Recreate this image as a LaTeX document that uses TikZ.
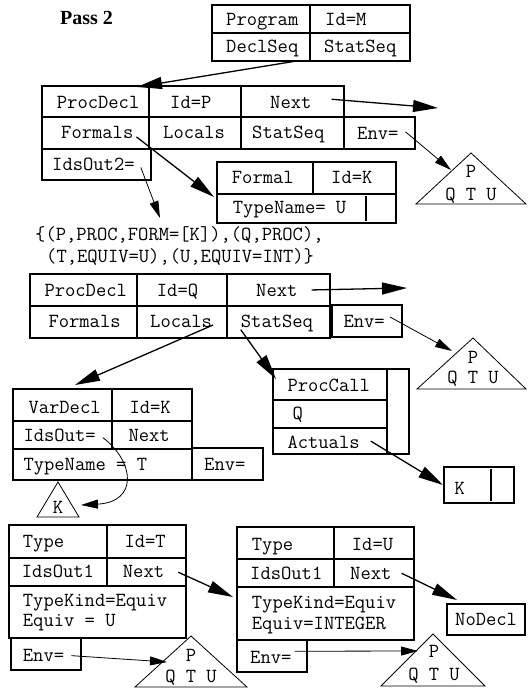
\documentclass[tikz,border=0pt]{standalone}
\usepackage{fontspec}
\usepackage{tikz}
\usetikzlibrary{arrows.meta}
\newfontfamily\headfont{Liberation Serif}

\tikzset{
  rec/.style={line width=1.3pt},
  fld/.style={anchor=base west, inner sep=0pt, font=\fontsize{20}{22}\selectfont\ttfamily},
  ctr/.style={fld, anchor=base},
  ptr/.style={line width=1.3pt, -{Triangle[length=25pt, width=12pt]}},
  envptr/.style={line width=0.8pt, -{Triangle[length=17pt, width=9pt]}},
  tree/.style={line width=0.8pt}
}

\begin{document}
\begin{tikzpicture}[x=1pt, y=-1pt]
    \useasboundingbox (0,0) rectangle (527,692);

    \node[anchor=base west, inner sep=0pt, font=\headfont\bfseries\fontsize{20}{22}\selectfont] (pass) at (60,25) {Pass 2};

    % program node
    \draw[rec] (212,5) rectangle (410,61) (212,33) -- (410,33) (310,5) -- (310,61);
    \node[fld] (prog) at (226,26) {Program};
    \node[fld] (idm) at (325,26) {Id=M};
    \node[fld] (dsq) at (226,52.7) {DeclSeq};
    \node[fld] (ssq) at (324,52.7) {StatSeq};

    % procedure P
    \draw[rec] (42,86) rectangle (344,149) (42,117) -- (344,117) (149,86) -- (149,149) (241,86) -- (241,149);
    \draw[rec] (344,117) rectangle (415,149);
    \draw[rec] (42,149) rectangle (151,180);
    \node[fld] (pd1) at (56.7,108.3) {ProcDecl};
    \node[fld] (idp) at (170,108.3) {Id=P};
    \node[fld] (nx1) at (270,108.3) {Next};
    \node[fld] (fm1) at (61,139) {Formals};
    \node[fld] (lc1) at (163,139) {Locals};
    \node[fld] (ss1) at (252,139) {StatSeq};
    \node[fld] (env1) at (357,140) {Env=};
    \node[fld] (ids2) at (52,171) {IdsOut2=};

    \draw[rec] (217,162) rectangle (396,223) (217,194) -- (396,194) (313,162) -- (313,194);
    \draw[rec] (366,196) -- (366,221);
    \node[fld] (fml) at (231.7,184) {Formal};
    \node[fld] (idk1) at (331,184) {Id=K};
    \node[fld] (tnu) at (232.7,214) {TypeName= U};

    \draw[tree] (471,153) -- (526,204) -- (416,204) -- cycle;
    \node[ctr] (p1) at (471,178) {P};
    \node[ctr] (qtu1) at (471,200.7) {Q T U};

    \node[fld] (set1) at (35,240.7) {\{(P,PROC,FORM=[K]),(Q,PROC),};
    \node[fld] (set2) at (46,262.7) {(T,EQUIV=U),(U,EQUIV=INT)\}};

    % procedure Q
    \draw[rec] (30,274) rectangle (330,338) (30,306) -- (330,306) (137,274) -- (137,338) (227,274) -- (227,338);
    \draw[rec] (332,305) rectangle (402,337);
    \node[fld] (pd2) at (44.3,296) {ProcDecl};
    \node[fld] (idq) at (156.7,296) {Id=Q};
    \node[fld] (nx2) at (256,296) {Next};
    \node[fld] (fm2) at (48.3,327) {Formals};
    \node[fld] (lc2) at (150,327) {Locals};
    \node[fld] (ss2) at (240.7,327) {StatSeq};
    \node[fld] (env2) at (343.3,327) {Env=};

    \draw[tree] (473,338) -- (526,389) -- (417,389) -- cycle;
    \node[ctr] (p2) at (473,363) {P};
    \node[ctr] (qtu2) at (473,383) {Q T U};

    % variable K
    \draw[rec] (13,389) rectangle (192,480) (13,421) -- (192,421) (13,449) -- (192,449) (112,389) -- (112,449);
    \draw[rec] (192,448) rectangle (263,480);
    \node[fld] (vd) at (28.3,413.3) {VarDecl};
    \node[fld] (idk2) at (129.3,413.3) {Id=K};
    \node[fld] (ido) at (23.3,441.7) {IdsOut=};
    \node[fld] (nx3) at (128.3,441.7) {Next};
    \node[fld] (tnt) at (23.3,470) {TypeName = T};
    \node[fld] (env3) at (204,470.7) {Env=};

    \draw[tree] (58,482) -- (79,517) -- (37,517) -- cycle;
    \node[ctr] (k1) at (58,513) {K};

    % call of Q
    \draw[rec] (273,369) rectangle (409,454) (273,400) -- (387,400) (273,428) -- (387,428) (387,369) -- (387,454);
    \node[fld] (pc) at (287.3,391) {ProcCall};
    \node[fld] (q) at (292.3,419.3) {Q};
    \node[fld] (act) at (287.3,448.3) {Actuals};

    \draw[rec] (444,467) rectangle (514,503) (491,469) -- (491,501);
    \node[fld] (k2) at (454.3,494.3) {K};

    % type T
    \draw[rec] (9,525) rectangle (186,638) (9,558) -- (186,558) (9,586) -- (186,586) (107,525) -- (107,586);
    \draw[rec] (11,638) rectangle (81,670);
    \node[fld] (ty1) at (22.7,547.3) {Type};
    \node[fld] (idt) at (124.3,547.3) {Id=T};
    \node[fld] (io1) at (21.7,577.3) {IdsOut1};
    \node[fld] (nx4) at (122.7,577.3) {Next};
    \node[fld] (tk1) at (22.7,606.7) {TypeKind=Equiv};
    \node[fld] (eq1) at (22.7,626.7) {Equiv = U};
    \node[fld] (env4) at (22.7,661.7) {Env=};

    \draw[tree] (191,636) -- (247,687) -- (135,687) -- cycle;
    \node[ctr] (p3) at (191,661) {P};
    \node[ctr] (qtu3) at (191,682) {Q T U};

    % type U
    \draw[rec] (237,527) rectangle (414,640) (237,559) -- (414,559) (237,587) -- (414,587) (334,527) -- (334,587);
    \draw[rec] (237,640) rectangle (307,672);
    \node[fld] (ty2) at (251.7,550) {Type};
    \node[fld] (idu) at (351.7,550) {Id=U};
    \node[fld] (io2) at (250,579.3) {IdsOut1};
    \node[fld] (nx5) at (350,579.3) {Next};
    \node[fld] (tk2) at (251.7,608.3) {TypeKind=Equiv};
    \node[fld] (eq2) at (251.7,629.3) {Equiv=INTEGER};
    \node[fld] (env5) at (250,663.3) {Env=};

    \draw[rec] (447,604) rectangle (525,635);
    \node[fld] (nod) at (455,625) {NoDecl};

    \draw[tree] (433,634) -- (485,686) -- (381,686) -- cycle;
    \node[ctr] (p4) at (434,657) {P};
    \node[ctr] (qtu4) at (434,680) {Q T U};

    % pointers
    \coordinate (procP) at (137,87);
    \coordinate (nextP) at (438,108);
    \coordinate (formal) at (214,197);
    \coordinate (idset) at (160,218);
    \coordinate (envP) at (451,170);
    \coordinate (nextQ) at (407,288);
    \coordinate (envQ) at (452,351);
    \coordinate (varK) at (75,385);
    \coordinate (call) at (276,379);
    \coordinate (treeK) at (81,505);
    \coordinate (argK) at (443,485);
    \coordinate (typeU) at (233,597);
    \coordinate (envT) at (167,662);
    \coordinate (nodecl) at (457,600);
    \coordinate (envU) at (418,651);

    \draw[ptr] ([shift={(-4,4)}]dsq.south east) -- (procP);
    \draw[ptr] ([shift={(20,-3)}]nx1.east) -- (nextP);
    \draw[ptr] ([shift={(3,4)}]fm1.east) -- (formal);
    \draw[envptr] ([shift={(6,2.5)}]ids2.east) -- (idset);
    \draw[envptr] ([shift={(7,-2)}]env1.east) -- (envP);
    \draw[ptr] ([shift={(14,0)}]nx2.east) -- (nextQ);
    \draw[envptr] ([shift={(5,-4)}]env2.east) -- (envQ);
    \draw[ptr] ([shift={(1,4)}]lc2.east) -- (varK);
    \draw[ptr] ([shift={(0,-2)}]ss2.south west) -- (call);
    \draw[envptr] ([shift={(7,2)}]ido.east) .. controls (135,462) and (138,502) .. (treeK);
    \draw[ptr] ([shift={(11,-1)}]act.east) -- (argK);
    \draw[ptr] ([shift={(14,1)}]nx4.east) -- (typeU);
    \draw[envptr] ([shift={(7,0)}]env4.east) -- (envT);
    \draw[ptr] ([shift={(10,0)}]nx5.east) -- (nodecl);
    \draw[envptr] ([shift={(3,-6)}]env5.east) -- (envU);
\end{tikzpicture}
\end{document}
